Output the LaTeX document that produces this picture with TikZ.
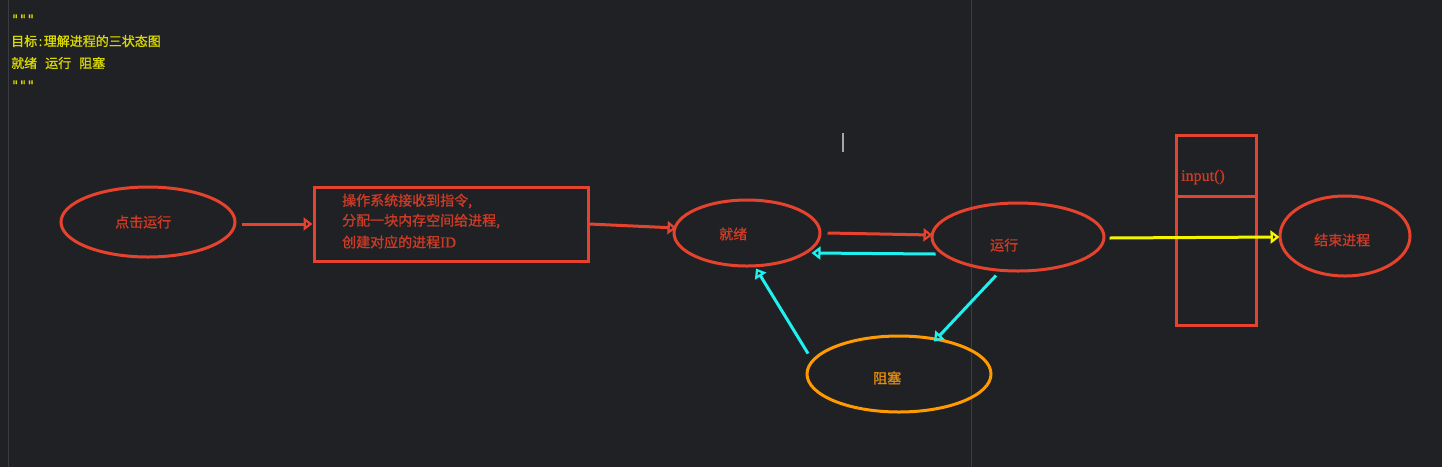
\documentclass[tikz,border=0pt]{standalone}
\usepackage{fontspec}
\setmainfont{Noto Sans CJK SC}
\newfontfamily\cjkm[FakeBold=1.2]{Noto Sans CJK SC}
\newfontfamily\serifl[FakeBold=0.8]{Liberation Serif}
\newfontfamily\monol[FakeBold=1]{DejaVu Sans Mono}
\usetikzlibrary{shapes.geometric,arrows.meta,calc}
\definecolor{bgc}{HTML}{202124}
\definecolor{gridc}{HTML}{3A3B3E}
\definecolor{redc}{HTML}{E5432D}
\definecolor{redt}{HTML}{CC3B26}
\definecolor{orc}{HTML}{FF9A00}
\definecolor{ort}{HTML}{E08A10}
\definecolor{cyc}{HTML}{1FF0F0}
\definecolor{yec}{HTML}{F5F500}
\definecolor{hdc}{HTML}{D8D800}
\tikzset{
  state/.style={ellipse, draw=redc, line width=3pt, inner sep=0pt},
  lbl/.style={anchor=west, text=redt, font=\cjkm\fontsize{14pt}{16pt}\selectfont, inner sep=0pt},
  hdr/.style={anchor=base west, text=hdc, font=\cjkm\fontsize{13pt}{15pt}\selectfont, inner sep=0pt},
  opentip/.style={-{Triangle[open,length=9pt,width=13pt]}},
  redarrow/.style={draw=redc, line width=3pt, opentip},
  cyanarrow/.style={draw=cyc, line width=3pt, opentip},
  yelarrow/.style={draw=yec, line width=3pt, opentip},
}
\begin{document}
\begin{tikzpicture}[x=1pt,y=-1pt]
\useasboundingbox (0,0) rectangle (1442,467);
\fill[bgc] (0,0) rectangle (1442,467);
\draw[gridc, line width=1pt] (8.5,0) -- (8.5,467);
\draw[gridc, line width=1pt] (971.5,0) -- (971.5,467);
\draw[gray!70, line width=1.5pt] (843,133) -- (843,152);

% header
\node[hdr] (h1) at (11,24) {\monol\fontsize{13pt}{15pt}\selectfont """};
\node[hdr] (h2) at (11,46) {目标\hspace{1.5pt}:\hspace{1.5pt}理解进程的三状态图};
\node[hdr] (h3) at (11,68) {就绪\hspace{8pt}运行\hspace{8pt}阻塞};
\node[hdr] (h4) at (11,90) {\monol\fontsize{13pt}{15pt}\selectfont """};

% nodes
\node[state, minimum width=174pt, minimum height=70pt] (click) at (148,222) {};
\node[lbl] (clickt) at (115,222) {点击运行};

\node[draw=redc, line width=3pt, rectangle, minimum width=274pt, minimum height=74pt, inner sep=0pt] (box) at (451,224) {};
\node[lbl] (b1) at (342,201) {操作系统接收到指令,};
\node[lbl] (b2) at (342,221) {分配一块内存空间给进程,};
\node[lbl] (b3) at (342,242) {创建对应的进程{\serifl\fontsize{15pt}{16pt}\selectfont ID}};

\node[state, minimum width=146pt, minimum height=66pt] (ready) at (747,233) {};
\node[lbl] (readyt) at (719,234) {就绪};

\node[state, minimum width=172pt, minimum height=68pt] (run) at (1018,237) {};
\node[lbl] (runt) at (990,245) {运行};

\node[state, draw=orc, minimum width=184pt, minimum height=76pt] (block) at (899,374) {};
\node[lbl, text=ort] (blockt) at (873,378) {阻塞};

\node[draw=redc, line width=3pt, rectangle, minimum width=80pt, minimum height=190pt, inner sep=0pt] (inbox) at (1216,230) {};
\draw[redc, line width=3pt] ($(inbox.north west)+(0,63)$) -- ($(inbox.north east)+(0,63)$);
\node[lbl, font=\serifl\fontsize{16pt}{18pt}\selectfont] (inputt) at (1181,177) {input()};

\node[state, minimum width=130pt, minimum height=80pt] (endp) at (1345,236) {};
\node[lbl] (endt) at (1314,240) {结束进程};

% connectors
\draw[redarrow] ($(click.east)+(5,2)$) -- (box.west);
\draw[redarrow] (box.east) -- ($(ready.west)+(4,-5)$);
\draw[redarrow] ($(ready.east)+(6,0)$) -- ($(run.west)+(2,-2)$);
\draw[cyanarrow] ($(run.west)+(5,17)$) -- ($(ready.east)+(-10,20)$);
\draw[cyanarrow] ($(run.south)+(-22,3)$) -- ($(block.north)+(35,7)$);
\draw[cyanarrow] ($(block.north)+(-91,19)$) -- ($(ready.south)+(9,1)$);
\draw[yelarrow] ($(run.east)+(4,1)$) -- ($(endp.west)+(1,1)$);
\end{tikzpicture}
\end{document}
